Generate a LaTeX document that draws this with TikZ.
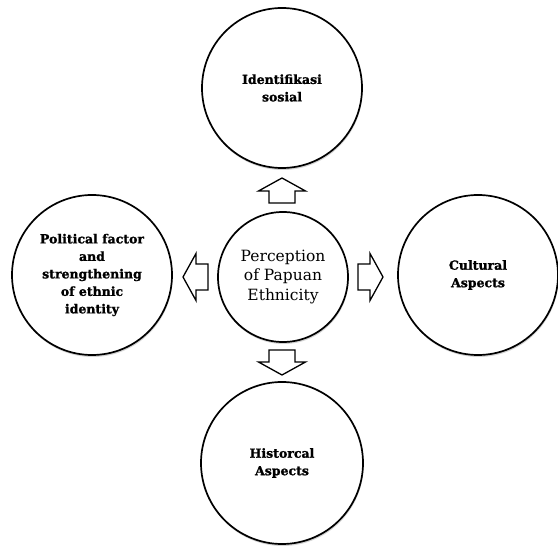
\documentclass[tikz,border=0pt]{standalone}
\usepackage{fontspec}
\setmainfont{DejaVu Serif}
\newfontfamily\heavyfont{DejaVu Serif Bold}[FakeBold=1.3]
\usetikzlibrary{shadows}
\tikzset{
  circ/.style={circle, draw=black, line width=1.7pt, fill=white, inner sep=0pt,
    drop shadow={opacity=0.35, shadow xshift=0.6pt, shadow yshift=-2pt}},
  outer/.style={circ, minimum size=160pt, align=center,
    font=\fontsize{12.5}{17.5}\heavyfont},
  inner/.style={circ, minimum size=130pt, align=center,
    font=\fontsize{15.5}{19.5}\selectfont},
  blockarrow/.style={draw=black, line width=1.3pt, fill=white, line join=miter}
}
\newcommand{\myarrow}[3]{%
  \begin{scope}[shift={(#1,#2)}, rotate=#3]
    \draw[blockarrow] (0,-13) -- (12,-13) -- (12,-23.5) -- (25,0) -- (12,23.5) -- (12,13) -- (0,13) -- cycle;
  \end{scope}}
\begin{document}
\begin{tikzpicture}[x=1pt, y=1pt]
\useasboundingbox (0,0) rectangle (558,-548);
\node[outer] (top) at (282,-88) {Identifikasi\\sosial};
\node[outer] (left) at (92,-275) {Political factor\\and\\strengthening\\of ethnic\\identity};
\node[outer] (right) at (478,-275) {Cultural\\Aspects};
\node[outer, minimum size=162pt] (bottom) at (282,-463) {Historcal\\Aspects};
\node[inner] (center) at (283,-277) {Perception\\of Papuan\\Ethnicity};
\myarrow{282}{-203}{90}
\myarrow{282}{-350}{-90}
\myarrow{208}{-277}{180}
\myarrow{358}{-277}{0}
\end{tikzpicture}
\end{document}
